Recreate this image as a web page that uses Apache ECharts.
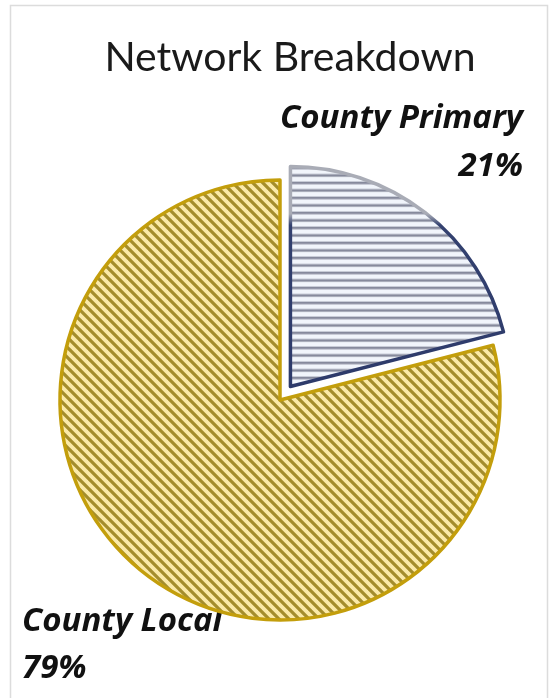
<!DOCTYPE html>
<html>
<head>
<meta charset="utf-8">
<script src="https://cdn.jsdelivr.net/npm/echarts@6/dist/echarts.min.js"></script>
<style>
  html, body { margin: 0; padding: 0; background: #ffffff; }
  #chart { width: 551px; height: 698px; }
</style>
</head>
<body>
<div id="chart"></div>
<script>
// Network share by road class
const categories = ['County Primary', 'County Local'];
const shares = [21, 79];

// Hatched fills drawn on small tiles
function diagonalTile() {
  const s = 10;
  const c = document.createElement('canvas');
  c.width = s; c.height = s;
  const g = c.getContext('2d');
  g.fillStyle = '#fbeaa8';
  g.fillRect(0, 0, s, s);
  g.strokeStyle = '#a48d2c';
  g.lineWidth = 3.2;
  g.beginPath();
  for (let k = -1; k <= 1; k++) {
    g.moveTo(k * s - 1, -1);
    g.lineTo(k * s + s + 1, s + 1);
  }
  g.stroke();
  return c;
}
function horizontalTile() {
  const c = document.createElement('canvas');
  c.width = 4; c.height = 15;
  const g = c.getContext('2d');
  g.fillStyle = '#f1f5fb';
  g.fillRect(0, 0, 4, 15);
  g.fillStyle = '#868a9c';
  g.fillRect(0, 0, 4, 2.6);
  g.fillRect(0, 7.5, 4, 2.6);
  return c;
}

const primaryBorder = {
  type: 'linear', x: 0, y: 0, x2: 0, y2: 1,
  colorStops: [
    { offset: 0, color: '#a9acb6' },
    { offset: 0.22, color: '#a9acb6' },
    { offset: 0.27, color: '#33416f' },
    { offset: 1, color: '#2d3a6a' }
  ]
};

const styles = [
  { color: { image: horizontalTile(), repeat: 'repeat' }, borderColor: primaryBorder, borderWidth: 3.5 },
  { color: { image: diagonalTile(), repeat: 'repeat' }, borderColor: '#c39e0c', borderWidth: 3.5 }
];

// Slice captions: name on one line, share of the whole on the next
const total = shares.reduce(function (a, b) { return a + b; }, 0);
const captionSpots = [
  { x: 523, y1: 119, y2: 167, align: 'right' },
  { x: 22, y1: 622, y2: 669, align: 'left' }
];
const captionFont = {
  fontFamily: 'Open Sans',
  fontWeight: 'bold',
  fontStyle: 'italic',
  fontSize: 33,
  fill: '#111111'
};
const captions = [];
categories.forEach(function (name, i) {
  const spot = captionSpots[i];
  const pct = Math.round(shares[i] / total * 100) + '%';
  [[name, spot.y1], [pct, spot.y2]].forEach(function (line) {
    captions.push({
      type: 'text',
      x: spot.x,
      y: line[1],
      silent: true,
      style: Object.assign({ text: line[0], align: spot.align, verticalAlign: 'middle' }, captionFont)
    });
  });
});

const chart = echarts.init(document.getElementById('chart'), null, { renderer: 'canvas' });

chart.setOption({
  backgroundColor: '#ffffff',
  animation: false,
  title: {
    text: 'Network Breakdown',
    left: 285,
    textAlign: 'center',
    top: 32,
    textStyle: { fontFamily: 'Lato', fontWeight: 'normal', fontSize: 41, color: '#1a1a1a' }
  },
  graphic: [{
    type: 'rect',
    shape: { x: 10.5, y: 5.5, width: 537, height: 700 },
    style: { fill: 'none', stroke: '#dcdcdc', lineWidth: 1.5 },
    silent: true
  }].concat(captions),
  series: [{
    type: 'pie',
    center: [280, 400],
    radius: 220,
    startAngle: 90,
    clockwise: true,
    selectedMode: 'single',
    selectedOffset: 17,
    emphasis: { disabled: true },
    label: { show: false },
    labelLine: { show: false },
    data: categories.map(function (name, i) {
      return {
        name: name,
        value: shares[i],
        selected: i === 0,
        itemStyle: styles[i],
        select: { itemStyle: styles[i] }
      };
    })
  }]
});
</script>
</body>
</html>
